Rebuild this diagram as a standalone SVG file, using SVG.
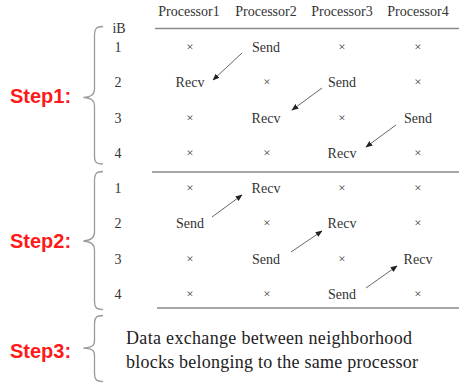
<svg xmlns="http://www.w3.org/2000/svg" width="459" height="383" viewBox="0 0 459 383">
  <style>
    .t { font-family: "Liberation Serif", "Times New Roman", serif; font-size: 14px; fill: #333; text-anchor: middle; }
    .x { font-family: "Liberation Serif", serif; font-size: 13px; fill: #444; text-anchor: middle; }
    .step { font-family: "Liberation Sans", Arial, sans-serif; font-weight: bold; font-size: 20px; fill: #ff1a1a; }
    .rule { stroke: #8a8a8a; stroke-width: 1.5; fill: none; }
    .brace { stroke: #9a9a9a; stroke-width: 1.3; fill: none; }
    .arrow { stroke: #555; stroke-width: 0.9; fill: none; marker-end: url(#head); }
    .para { font-family: "Liberation Serif", "Times New Roman", serif; font-size: 18px; fill: #222; }
  </style>
  <defs>
    <marker id="head" viewBox="0 0 10 10" refX="9" refY="5" markerWidth="7" markerHeight="7" markerUnits="userSpaceOnUse" orient="auto">
      <path d="M0,1 L10,5 L0,9 z" fill="#222"/>
    </marker>
  </defs>

  <rect width="459" height="383" fill="#fff"/>

  <!-- column headers -->
  <g id="headers">
    <text class="t" x="189" y="16">Processor1</text>
    <text class="t" x="266" y="16">Processor2</text>
    <text class="t" x="342" y="16">Processor3</text>
    <text class="t" x="418" y="16">Processor4</text>
  </g>

  <!-- horizontal rules -->
  <g id="rules">
    <line class="rule" x1="155" y1="28.5" x2="459" y2="28.5"/>
    <line class="rule" x1="152" y1="172" x2="459" y2="172"/>
    <line class="rule" x1="157" y1="308" x2="459" y2="308"/>
  </g>

  <!-- step 1 -->
  <g id="step1">
    <text class="step" x="10" y="103">Step1:</text>
    <path class="brace" d="M103,26.5 C96,26.5 94.5,29 94.5,36 L94.5,89 C94.5,95 91,97 83.5,97.5 C91,98 94.5,100 94.5,106 L94.5,156 C94.5,162 96,164 103,164"/>
    <text class="t" x="119" y="33">iB</text>
    <text class="t" x="118" y="52">1</text>
    <text class="t" x="118" y="87">2</text>
    <text class="t" x="118" y="123">3</text>
    <text class="t" x="118" y="158">4</text>

    <text class="x" x="190" y="51">×</text>
    <text class="t" x="266" y="52">Send</text>
    <text class="x" x="342" y="51">×</text>
    <text class="x" x="418" y="51">×</text>

    <text class="t" x="190" y="87">Recv</text>
    <text class="x" x="267" y="86">×</text>
    <text class="t" x="342" y="87">Send</text>
    <text class="x" x="418" y="86">×</text>

    <text class="x" x="190" y="122">×</text>
    <text class="t" x="266" y="123">Recv</text>
    <text class="x" x="342" y="122">×</text>
    <text class="t" x="418" y="123">Send</text>

    <text class="x" x="190" y="157">×</text>
    <text class="x" x="267" y="157">×</text>
    <text class="t" x="342" y="158">Recv</text>
    <text class="x" x="418" y="157">×</text>
  </g>

  <!-- step 2 -->
  <g id="step2">
    <text class="step" x="10" y="248">Step2:</text>
    <path class="brace" d="M103,171.5 C96,171.5 94.5,174 94.5,181 L94.5,232 C94.5,238 91,240 83.5,241 C91,242 94.5,244 94.5,250 L94.5,301 C94.5,307 96,309.5 103,309.5"/>
    <text class="t" x="118" y="193">1</text>
    <text class="t" x="118" y="228">2</text>
    <text class="t" x="118" y="264">3</text>
    <text class="t" x="118" y="299">4</text>

    <text class="x" x="190" y="192">×</text>
    <text class="t" x="266" y="193">Recv</text>
    <text class="x" x="342" y="192">×</text>
    <text class="x" x="418" y="192">×</text>

    <text class="t" x="190" y="228">Send</text>
    <text class="x" x="267" y="227">×</text>
    <text class="t" x="342" y="228">Recv</text>
    <text class="x" x="418" y="227">×</text>

    <text class="x" x="190" y="263">×</text>
    <text class="t" x="266" y="264">Send</text>
    <text class="x" x="342" y="263">×</text>
    <text class="t" x="418" y="264">Recv</text>

    <text class="x" x="190" y="298">×</text>
    <text class="x" x="267" y="298">×</text>
    <text class="t" x="342" y="299">Send</text>
    <text class="x" x="418" y="298">×</text>
  </g>

  <!-- step 3 -->
  <g id="step3">
    <text class="step" x="10" y="358">Step3:</text>
    <path class="brace" d="M103,315.5 C96,315.5 94.5,318 94.5,324 L94.5,341 C94.5,346 91,347.5 83.5,348 C91,348.5 94.5,350 94.5,355 L94.5,373 C94.5,379 96,381.5 103,381.5"/>
    <text class="para" x="126" y="344" textLength="286" lengthAdjust="spacing">Data exchange between neighborhood</text>
    <text class="para" x="126" y="368" textLength="292" lengthAdjust="spacing">blocks belonging to the same processor</text>
  </g>

  <!-- send/recv connectors -->
  <g id="connectors">
    <line class="arrow" x1="242" y1="53" x2="213" y2="80"/>
    <line class="arrow" x1="322" y1="88" x2="292" y2="110"/>
    <line class="arrow" x1="396" y1="125" x2="366" y2="147"/>
    <line class="arrow" x1="212" y1="217" x2="242" y2="195"/>
    <line class="arrow" x1="291" y1="252" x2="322" y2="231"/>
    <line class="arrow" x1="366" y1="288" x2="397" y2="266"/>
  </g>
</svg>
